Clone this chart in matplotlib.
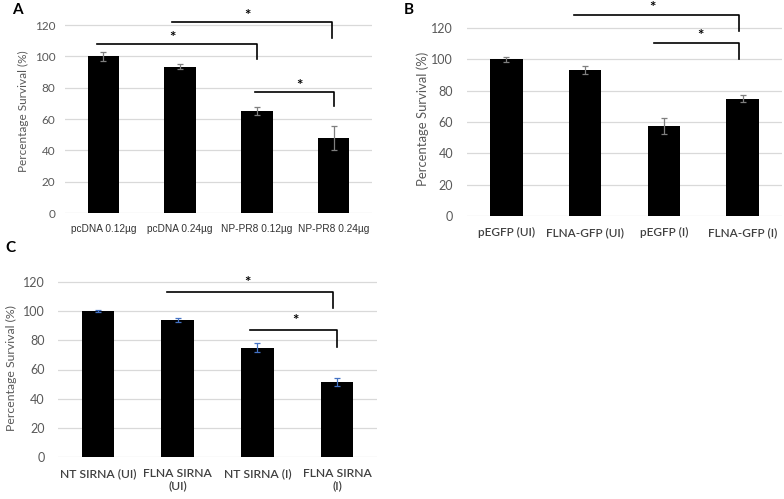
import matplotlib
matplotlib.use("Agg")
import matplotlib.pyplot as plt

plt.rcParams["font.family"] = ["Lato", "DejaVu Sans"]

W, H = 784, 499

# panel A
a_labels = ["pcDNA 0.12µg", "pcDNA 0.24µg", "NP-PR8 0.12µg", "NP-PR8 0.24µg"]
a_values = [100, 93.5, 65, 48]
a_errors = [3, 1.5, 2.5, 7.5]
# (start, end, top, drop, star_x, star_y)
a_brackets = [(-0.08, 2.0, 108, 98, 0.90, 112),
              (0.90, 2.98, 122, 112, 1.88, 126),
              (1.98, 3.0, 77, 68, 2.56, 81)]

# panel B
b_labels = ["pEGFP (UI)", "FLNA-GFP (UI)", "pEGFP (I)", "FLNA-GFP (I)"]
b_values = [100, 93, 57.5, 75]
b_errors = [1.5, 2.5, 5, 2.5]
b_brackets = [(0.86, 2.95, 128, 118, 1.86, 133),
              (1.87, 2.95, 110.5, 100, 2.47, 115)]

# panel C
c_labels = ["NT SIRNA (UI)", "FLNA SIRNA\n(UI)", "NT SIRNA (I)", "FLNA SIRNA\n(I)"]
c_values = [100, 94, 75, 51.5]
c_errors = [0.6, 1.2, 3, 2.5]
c_brackets = [(0.87, 2.95, 113, 102, 1.87, 119),
              (1.91, 3.0, 87, 75.5, 2.48, 93)]

yticks = [0, 20, 40, 60, 80, 100, 120]


def make_axes(fig, left, right, zero_y, px_per_unit, top_y):
    ymax = (zero_y - top_y) / px_per_unit
    ax = fig.add_axes([left / W, (H - zero_y) / H, (right - left) / W, (zero_y - top_y) / H])
    ax.set_ylim(0, ymax)
    ax.set_xlim(-0.5, 3.5)
    return ax


def draw_panel(ax, labels, values, errors, brackets, ecolor, tick_fs, label_fs,
               ylab_fs, lab_weight, tick_pad, ylab_xy, lab_family=None, lab_color="#404040"):
    x = list(range(len(values)))
    ax.set_axisbelow(True)
    ax.bar(x, values, width=0.41, color="black", zorder=2)
    ax.errorbar(x, values, yerr=errors, fmt="none", ecolor=ecolor, elinewidth=0.9,
                capsize=2.2, capthick=0.9, zorder=3)
    ax.set_yticks(yticks)
    ax.yaxis.grid(True, color="#d9d9d9", linewidth=0.9)
    ax.tick_params(axis="y", length=0, pad=tick_pad, labelsize=tick_fs, labelcolor="#595959")
    ax.set_xticks(x)
    ax.set_xticklabels(labels, fontsize=label_fs, color=lab_color, weight=lab_weight,
                       linespacing=1.1, family=lab_family or ["Lato", "DejaVu Sans"])
    ax.tick_params(axis="x", length=0, pad=8)
    for s in ax.spines.values():
        s.set_visible(False)
    ax.set_ylabel("Percentage Survival (%)", fontsize=ylab_fs, color="#595959")
    ax.yaxis.set_label_coords(*ylab_xy)
    for x0, x1, top, drop, sx, sy in brackets:
        ax.plot([x0, x1, x1], [top, top, drop], color="black", linewidth=1.2,
                clip_on=False, zorder=4)
        ax.text(sx, sy, "*", ha="center", va="center", fontsize=11, weight="bold",
                color="black")


fig = plt.figure(figsize=(W / 100, H / 100), dpi=100)

ax_a = make_axes(fig, 65, 372, 213, 188 / 120, 0)
draw_panel(ax_a, a_labels, a_values, a_errors, a_brackets, "#7f7f7f",
           8.5, 7.3, 8.5, "normal", 7, (-0.117, 0.48),
           lab_family=["Liberation Sans", "DejaVu Sans"], lab_color="#333333")

ax_b = make_axes(fig, 467, 782, 216, 188 / 120, 0)
draw_panel(ax_b, b_labels, b_values, b_errors, b_brackets, "#7f7f7f",
           9, 8.5, 9.4, "semibold", 10, (-0.12, 0.45))

ax_c = make_axes(fig, 58, 377, 457, 175 / 120, 268)
draw_panel(ax_c, c_labels, c_values, c_errors, c_brackets, "#4472c4",
           9, 8.7, 8.8, "semibold", 9.5, (-0.13, 0.47))

fig.text(12 / W, 1 - 10 / H, "A", fontsize=11, weight="bold", va="center", ha="left")
fig.text(404 / W, 1 - 10 / H, "B", fontsize=11, weight="bold", va="center", ha="left")
fig.text(5 / W, 1 - 248 / H, "C", fontsize=11, weight="bold", va="center", ha="left")

fig.savefig("out.png", dpi=100)
